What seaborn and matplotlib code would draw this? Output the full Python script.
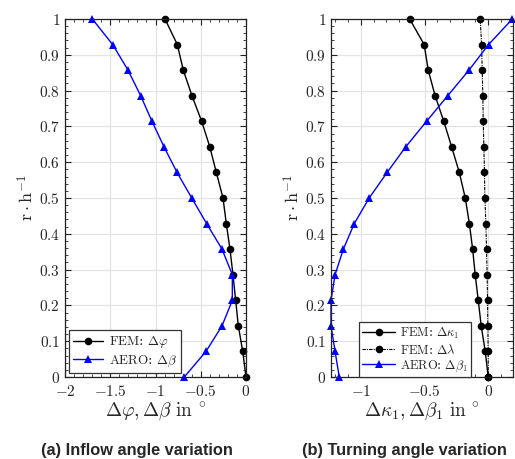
import numpy as np
import pandas as pd
import matplotlib
matplotlib.use("Agg")
import matplotlib.pyplot as plt
import seaborn as sns
from matplotlib.ticker import AutoMinorLocator, MultipleLocator, FuncFormatter

# ---------------- data ----------------
r = [i / 14 for i in range(15)]  # radial positions r/h (0 ... 1)

# (a) inflow angle variation, listed from r=0 to r=1
fem_dphi = [0.0, -0.036, -0.085, -0.114, -0.144, -0.177, -0.218, -0.254,
            -0.328, -0.40, -0.49, -0.597, -0.693, -0.759, -0.895]
aero_dbeta = [-0.682, -0.442, -0.265, -0.151, -0.151, -0.265, -0.435, -0.60,
              -0.762, -0.906, -1.039, -1.164, -1.304, -1.473, -1.698]

# (b) turning angle variation
fem_dkappa = [0.0, -0.023, -0.055, -0.078, -0.102, -0.122, -0.148, -0.18,
              -0.227, -0.287, -0.349, -0.417, -0.471, -0.503, -0.617]
fem_dlambda = [0.0, 0.0, -0.003, -0.005, -0.008, -0.013, -0.018, -0.026,
               -0.029, -0.034, -0.039, -0.042, -0.047, -0.052, -0.0625]
aero_dbeta1 = [-1.17, -1.203, -1.235, -1.235, -1.203, -1.138, -1.052, -0.935,
               -0.794, -0.648, -0.484, -0.318, -0.151, 0.003, 0.19]

captions = ["(a) Inflow angle variation", "(b) Turning angle variation"]

# ---------------- style ----------------
sns.set_theme(style="ticks")
plt.rcParams["font.family"] = ["DejaVu Serif"]
plt.rcParams["mathtext.fontset"] = "cm"

fig = plt.figure(figsize=(5.15, 4.59), dpi=100)
axA = fig.add_axes([65 / 515, 1 - 377 / 459, 181 / 515, 358 / 459])
axB = fig.add_axes([331 / 515, 1 - 377 / 459, 182 / 515, 358 / 459])

fmt = FuncFormatter(lambda v, p: "$%s$" % ("%g" % round(v, 3)))

def style(ax, major_x):
    ax.xaxis.set_major_locator(MultipleLocator(major_x))
    ax.yaxis.set_major_locator(MultipleLocator(0.1))
    ax.xaxis.set_minor_locator(AutoMinorLocator(5))
    ax.yaxis.set_minor_locator(AutoMinorLocator(5))
    ax.xaxis.set_major_formatter(fmt)
    ax.yaxis.set_major_formatter(fmt)
    ax.tick_params(which="both", direction="in", top=True, right=True,
                   labelsize=11, color="#222222")
    ax.tick_params(axis="x", which="major", pad=5)
    ax.tick_params(which="major", length=4, width=0.8)
    ax.tick_params(which="minor", length=2, width=0.6)
    ax.grid(True, which="major", color="#e3e3e3", linewidth=0.9)
    ax.set_axisbelow(True)
    for s in ax.spines.values():
        s.set_color("#222222")
        s.set_linewidth(0.9)
    ax.set_ylim(0, 1)
    ax.set_ylabel(r"$\mathrm{r}\cdot\mathrm{h}^{-1}$", fontsize=13, labelpad=1)

blue = "#0000ff"
lk = dict(sort=False, estimator=None, markersize=5.5, markeredgewidth=0)

# panel (a)
sns.lineplot(x=fem_dphi, y=r, ax=axA, color="black", marker="o", linewidth=1.0,
             label=r"$\mathrm{FEM}$: $\Delta\varphi$", **lk)
sns.lineplot(x=aero_dbeta, y=r, ax=axA, color=blue, marker="^", linewidth=1.0,
             label=r"$\mathrm{AERO}$: $\Delta\beta$", **lk)
axA.set_xlim(-2, 0)
style(axA, 0.5)
axA.set_xlabel(r"$\Delta\varphi, \Delta\beta\ \mathrm{in}\ ^{\circ}$", fontsize=14, labelpad=1)
legA = axA.legend(loc="lower left", fontsize=9.5, frameon=True, fancybox=False,
                  edgecolor="#333333", framealpha=1, handlelength=2.3,
                  borderpad=0.3, labelspacing=0.25, handletextpad=0.4,
                  borderaxespad=0.3)
legA.get_frame().set_linewidth(0.9)

# panel (b)
sns.lineplot(x=fem_dkappa, y=r, ax=axB, color="black", marker="o", linewidth=1.0,
             label=r"$\mathrm{FEM}$: $\Delta\kappa_1$", **lk)
sns.lineplot(x=fem_dlambda, y=r, ax=axB, color="black", marker="o", linewidth=0.8,
             linestyle=(0, (3, 1, 1, 1)),
             label=r"$\mathrm{FEM}$: $\Delta\lambda$", **lk)
sns.lineplot(x=aero_dbeta1, y=r, ax=axB, color=blue, marker="^",
             linewidth=1.0, label=r"$\mathrm{AERO}$: $\Delta\beta_1$", **lk)
axB.set_xlim(-1.235, 0.195)
style(axB, 0.5)
axB.set_xlabel(r"$\Delta\kappa_1, \Delta\beta_1\ \mathrm{in}\ ^{\circ}$", fontsize=14, labelpad=1)
legB = axB.legend(loc="lower left", bbox_to_anchor=(0.155, 0.0), fontsize=9,
                  frameon=True, fancybox=False, edgecolor="#333333",
                  framealpha=1, handlelength=2.6, borderpad=0.25,
                  labelspacing=0.15, handletextpad=0.4, borderaxespad=0.0)
legB.get_frame().set_linewidth(0.9)

for ax in (axA, axB):
    for line in ax.get_lines():
        line.set_clip_on(False)

for xc, cap in zip([137, 404], captions):
    fig.text(xc / 515, 1 - 450 / 459, cap, ha="center", va="center",
             fontsize=11.8, fontweight="bold", family=["Liberation Sans"])

fig.savefig("out.png", dpi=100)
